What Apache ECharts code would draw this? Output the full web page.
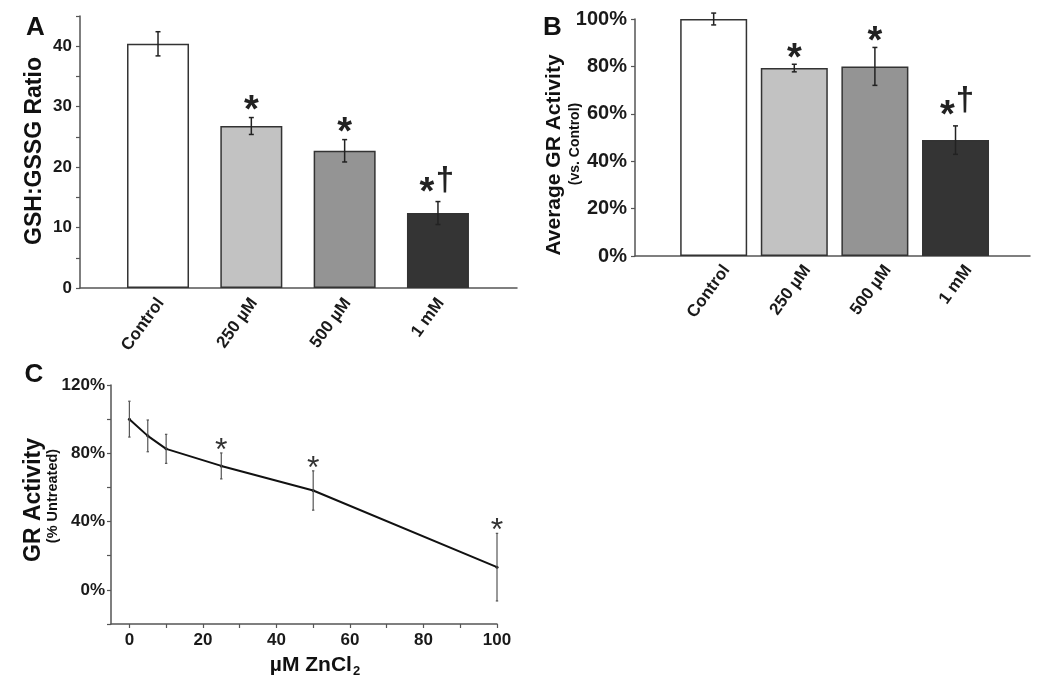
<!DOCTYPE html>
<html><head><meta charset="utf-8">
<script src="https://cdn.jsdelivr.net/npm/echarts@6/dist/echarts.min.js"></script>
<style>html,body{margin:0;padding:0;background:#fff}#c{width:1050px;height:682px}</style>
</head><body><div id="c"></div>
<script>
// ---- data ----
const categories = ['Control', '250 µM', '500 µM', '1 mM'];
const ratioA = [40.4, 26.8, 22.7, 12.4];
const ratioAErr = [2.0, 1.4, 1.85, 1.9];
const sigA = ['', '*', '*', '*†'];
const grB = [100, 79.3, 80.0, 48.9];
const grBErr = [2.5, 1.6, 8.0, 6.0];
const sigB = ['', '*', '*', '*†'];
const doseC = [0, 5, 10, 25, 50, 100];
const grC = [100, 90.2, 82.6, 72.6, 58.2, 13.3];
const grCErr = [10.5, 9.3, 8.5, 7.6, 11.5, 19.8];
const sigC = ['', '', '', '*', '*', '*'];
const yTicksA = [0, 5, 10, 15, 20, 25, 30, 35, 40, 45];
const yLabelsA = [0, 10, 20, 30, 40];
const yTicksB = [0, 20, 40, 60, 80, 100];
const yTicksC = [-20, 0, 20, 40, 60, 80, 100, 120];
const yLabelsC = [0, 40, 80, 120];
const xTicksC = [0, 10, 20, 30, 40, 50, 60, 70, 80, 90, 100];
const xLabelsC = [0, 20, 40, 60, 80, 100];
const barColors = ['#ffffff', '#c2c2c2', '#949494', '#343434'];

// ---- style ----
const FONT = '"Liberation Sans", Arial, sans-serif';
const AX = '#555';
const shiftA = 0.03, shiftB = 0.16;

function idx(arr) { return arr.map((v, i) => i); }

function errRender(sig, opt) {
  return function (params, api) {
    const x = api.value(0), y = api.value(1), e = api.value(2);
    const p0 = api.coord([x, y + e]), p1 = api.coord([x, y - e]);
    const c = opt.cap;
    const ls = { stroke: opt.color, lineWidth: opt.lw };
    const ch = [
      { type: 'line', shape: { x1: p0[0], y1: p0[1], x2: p1[0], y2: p1[1] }, style: ls },
      { type: 'line', shape: { x1: p0[0] - c, y1: p0[1], x2: p0[0] + c, y2: p0[1] }, style: ls },
      { type: 'line', shape: { x1: p1[0] - c, y1: p1[1], x2: p1[0] + c, y2: p1[1] }, style: ls }
    ];
    const s = sig[params.dataIndex];
    if (s) {
      const two = s.length > 1;
      ch.push({ type: 'text', x: p0[0] + (two ? opt.ax2 : 0), y: p0[1] - (two ? opt.gap2 : opt.gap),
        style: { text: s[0], fontSize: opt.fs, fontWeight: opt.fw, fontFamily: FONT, fill: opt.sc, align: 'center', verticalAlign: 'middle' } });
      if (two) {
        ch.push({ type: 'text', x: p0[0] + opt.dx2, y: p0[1] - opt.dgap,
          style: { text: s[1], fontSize: opt.dfs, fontWeight: 'bold', fontFamily: FONT, fill: opt.sc, align: 'center', verticalAlign: 'middle' } });
      }
    }
    return { type: 'group', children: ch };
  };
}

function yAxisBase(grid, min, max, ticks, labels, fmt, fs, margin) {
  return {
    type: 'value', gridIndex: grid, min: min, max: max,
    axisLine: { show: true, onZero: false, lineStyle: { color: AX, width: 1.5 } },
    axisTick: { show: true, length: 4, customValues: ticks, lineStyle: { color: AX, width: 1.2 } },
    axisLabel: { customValues: labels, formatter: fmt, fontSize: fs, fontWeight: 'bold', fontFamily: FONT, color: '#1a1a1a', margin: margin },
    splitLine: { show: false }
  };
}
function xCatAxis(grid, min, max, shift, margin) {
  return {
    type: 'value', gridIndex: grid, min: min, max: max,
    axisLine: { show: true, onZero: false, lineStyle: { color: AX, width: 1.5 } },
    axisTick: { show: false },
    axisLabel: { customValues: idx(categories).map(i => i + shift), formatter: v => categories[Math.round(v - shift)] || '',
      rotate: 54, fontSize: 17, fontWeight: 'bold', fontFamily: FONT, color: '#1a1a1a', margin: margin },
    splitLine: { show: false }
  };
}

const chart = echarts.init(document.getElementById('c'), null, { renderer: 'canvas' });
chart.setOption({
  backgroundColor: '#ffffff',
  animation: false,
  grid: [
    { left: 80, top: 16, width: 437, height: 272 },
    { left: 635, top: 19, width: 395, height: 237 },
    { left: 111, top: 385, width: 386, height: 239 }
  ],
  xAxis: [
    xCatAxis(0, -0.836, 3.847, shiftA, 12),
    xCatAxis(1, -0.976, 3.924, shiftB, 11),
    {
      type: 'value', gridIndex: 2, min: -5, max: 100,
      axisLine: { show: true, onZero: false, lineStyle: { color: AX, width: 1.5 } },
      axisTick: { show: true, length: 4, customValues: xTicksC, lineStyle: { color: AX, width: 1.2 } },
      axisLabel: { customValues: xLabelsC, fontSize: 17, fontWeight: 'bold', fontFamily: FONT, color: '#1a1a1a', margin: 8 },
      splitLine: { show: false }
    }
  ],
  yAxis: [
    yAxisBase(0, 0, 45, yTicksA, yLabelsA, v => String(v), 17, 8),
    yAxisBase(1, 0, 100, yTicksB, yTicksB, v => v + '%', 20, 8),
    yAxisBase(2, -20, 120, yTicksC, yLabelsC, v => v + '%', 17, 6)
  ],
  series: [
    { type: 'bar', xAxisIndex: 0, yAxisIndex: 0, barWidth: 62,
      data: ratioA.map((v, i) => ({ value: [i, v], itemStyle: { color: barColors[i] } })),
      itemStyle: { borderColor: '#333', borderWidth: 1.5 } },
    { type: 'custom', xAxisIndex: 0, yAxisIndex: 0, z: 5,
      data: ratioA.map((v, i) => [i, v, ratioAErr[i]]),
      renderItem: errRender(sigA, { color: '#222', lw: 1.5, cap: 2.5, gap: 6, gap2: 8.5, ax2: -11, fs: 38, fw: 'bold', sc: '#222', dx2: 7, dgap: 21, dfs: 33 }) },
    { type: 'bar', xAxisIndex: 1, yAxisIndex: 1, barWidth: 67,
      data: grB.map((v, i) => ({ value: [i, v], itemStyle: { color: barColors[i] } })),
      itemStyle: { borderColor: '#333', borderWidth: 1.5 } },
    { type: 'custom', xAxisIndex: 1, yAxisIndex: 1, z: 5,
      data: grB.map((v, i) => [i, v, grBErr[i]]),
      renderItem: errRender(sigB, { color: '#222', lw: 1.5, cap: 2.5, gap: 5, gap2: 9, ax2: -8, fs: 38, fw: 'bold', sc: '#222', dx2: 9.5, dgap: 25, dfs: 33 }) },
    { type: 'line', xAxisIndex: 2, yAxisIndex: 2, data: doseC.map((d, i) => [d, grC[i]]),
      symbol: 'circle', symbolSize: 3, lineStyle: { color: '#111', width: 2 }, itemStyle: { color: '#111' } },
    { type: 'custom', xAxisIndex: 2, yAxisIndex: 2, z: 5,
      data: doseC.map((d, i) => [d, grC[i], grCErr[i]]),
      renderItem: errRender(sigC, { color: '#555', lw: 1.2, cap: 1.2, gap: 2, gap2: 2, ax2: 0, fs: 32, fw: 'normal', sc: '#333', dx2: 0, dgap: 0, dfs: 30 }) }
  ],
  graphic: [
    { type: 'text', x: 35.5, y: 27.5, style: { text: 'A', fontSize: 26, fontWeight: 'bold', fontFamily: FONT, fill: '#111', align: 'center', verticalAlign: 'middle' } },
    { type: 'text', x: 552.5, y: 27.5, style: { text: 'B', fontSize: 26, fontWeight: 'bold', fontFamily: FONT, fill: '#111', align: 'center', verticalAlign: 'middle' } },
    { type: 'text', x: 34, y: 375, style: { text: 'C', fontSize: 26, fontWeight: 'bold', fontFamily: FONT, fill: '#111', align: 'center', verticalAlign: 'middle' } },
    { type: 'text', x: 34.5, y: 151, rotation: Math.PI / 2, style: { text: 'GSH:GSSG Ratio', fontSize: 23, fontWeight: 'bold', fontFamily: FONT, fill: '#111', align: 'center', verticalAlign: 'middle' } },
    { type: 'text', x: 554, y: 155, rotation: Math.PI / 2, style: { text: 'Average GR Activity', fontSize: 21, fontWeight: 'bold', fontFamily: FONT, fill: '#111', align: 'center', verticalAlign: 'middle' } },
    { type: 'text', x: 575.5, y: 144, rotation: Math.PI / 2, style: { text: '(vs. Control)', fontSize: 14, fontWeight: 'bold', fontFamily: FONT, fill: '#111', align: 'center', verticalAlign: 'middle' } },
    { type: 'text', x: 34, y: 500, rotation: Math.PI / 2, style: { text: 'GR Activity', fontSize: 23, fontWeight: 'bold', fontFamily: FONT, fill: '#111', align: 'center', verticalAlign: 'middle' } },
    { type: 'text', x: 53, y: 496, rotation: Math.PI / 2, style: { text: '(% Untreated)', fontSize: 14.5, fontWeight: 'bold', fontFamily: FONT, fill: '#111', align: 'center', verticalAlign: 'middle' } },
    { type: 'text', x: 315, y: 665, style: { text: '{a|µM ZnCl}{b|2}', align: 'center', verticalAlign: 'middle',
        rich: { a: { fontSize: 21, fontWeight: 'bold', fontFamily: FONT, fill: '#111', color: '#111' },
                b: { fontSize: 13, fontWeight: 'bold', fontFamily: FONT, fill: '#111', color: '#111', padding: [12, 0, 0, 1] } } } }
  ]
});
</script></body></html>
